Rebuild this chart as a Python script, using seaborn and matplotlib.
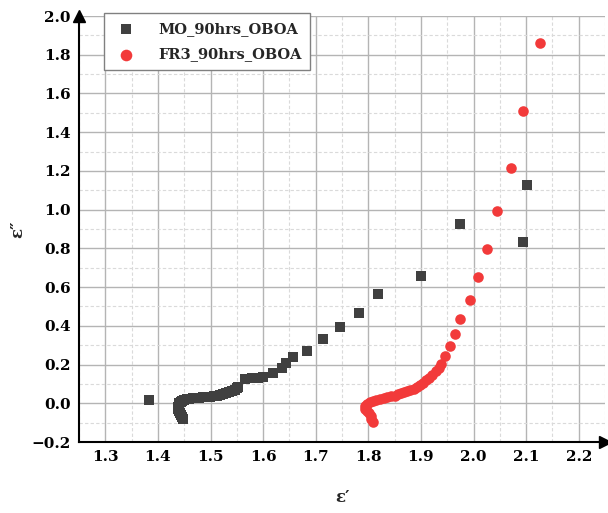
import matplotlib
matplotlib.use("Agg")
import matplotlib.pyplot as plt
from matplotlib.ticker import MultipleLocator
import numpy as np
import pandas as pd
import seaborn as sns

# Cole-Cole data: real (eps') vs imaginary (eps'') permittivity
mo_eps_real = [1.383, 1.447, 1.446, 1.444, 1.442, 1.440, 1.439, 1.439, 1.440, 1.441,
               1.443, 1.446, 1.450, 1.455, 1.460, 1.466, 1.472, 1.478, 1.485, 1.492,
               1.499, 1.506, 1.512, 1.518, 1.524, 1.530, 1.536, 1.541, 1.546, 1.550,
               1.553, 1.565, 1.578, 1.590, 1.600, 1.619, 1.636, 1.643, 1.657, 1.683,
               1.714, 1.746, 1.782, 1.818, 1.900, 1.974, 2.094, 2.102]
mo_eps_imag = [0.016, -0.080, -0.070, -0.060, -0.050, -0.040, -0.030, -0.020, -0.010, 0.000,
               0.008, 0.014, 0.019, 0.022, 0.024, 0.026, 0.027, 0.029, 0.030, 0.032,
               0.034, 0.036, 0.039, 0.042, 0.046, 0.051, 0.057, 0.063, 0.070, 0.078,
               0.086, 0.125, 0.130, 0.133, 0.137, 0.155, 0.180, 0.210, 0.237, 0.269,
               0.330, 0.394, 0.465, 0.563, 0.656, 0.925, 0.832, 1.127]

fr3_eps_real = [1.808, 1.806, 1.805, 1.802, 1.797, 1.793, 1.794, 1.798, 1.803, 1.809,
                1.815, 1.822, 1.829, 1.836, 1.843, 1.850, 1.856, 1.862, 1.868, 1.874,
                1.880, 1.886, 1.892, 1.898, 1.904, 1.910, 1.916, 1.922, 1.928, 1.934,
                1.939, 1.946, 1.955, 1.965, 1.975, 1.993, 2.008, 2.026, 2.045, 2.071,
                2.094, 2.126]
fr3_eps_imag = [-0.095, -0.080, -0.065, -0.050, -0.038, -0.027, -0.015, -0.005, 0.004, 0.012,
                0.018, 0.024, 0.028, 0.031, 0.035, 0.040, 0.046, 0.052, 0.057, 0.061,
                0.067, 0.075, 0.084, 0.094, 0.106, 0.118, 0.132, 0.148, 0.165, 0.183,
                0.205, 0.243, 0.295, 0.357, 0.434, 0.532, 0.651, 0.796, 0.992, 1.215,
                1.509, 1.860]

series_names = ["MO_90hrs_OBOA", "FR3_90hrs_OBOA"]
x_ticks = [1.3, 1.4, 1.5, 1.6, 1.7, 1.8, 1.9, 2.0, 2.1, 2.2]
y_ticks = [-0.2, 0.0, 0.2, 0.4, 0.6, 0.8, 1.0, 1.2, 1.4, 1.6, 1.8, 2.0]

df = pd.concat([
    pd.DataFrame({"eps_r": mo_eps_real, "eps_i": mo_eps_imag, "sample": series_names[0]}),
    pd.DataFrame({"eps_r": fr3_eps_real, "eps_i": fr3_eps_imag, "sample": series_names[1]}),
], ignore_index=True)

sns.set_style("white")
plt.rcParams["font.family"] = ["DejaVu Serif"]

fig = plt.figure(figsize=(6.08, 5.13), dpi=100)
ax = fig.add_axes([79 / 608, 1 - 442 / 513, (605 - 79) / 608, (442 - 16) / 513])

colors = {series_names[0]: "#404040", series_names[1]: "#f23a3a"}
sns.scatterplot(data=df[df["sample"] == series_names[0]], x="eps_r", y="eps_i",
                color=colors[series_names[0]], marker="s", s=46, linewidth=0,
                label=series_names[0], ax=ax, zorder=3)
sns.scatterplot(data=df[df["sample"] == series_names[1]], x="eps_r", y="eps_i",
                color=colors[series_names[1]], marker="o", s=58, linewidth=0,
                label=series_names[1], ax=ax, zorder=3)

ax.set_xlim(1.25, 2.25)
ax.set_ylim(-0.2, 2.0)
ax.set_xticks(x_ticks)
ax.set_yticks(y_ticks)
ax.set_xticklabels([f"{v:.1f}" for v in x_ticks])
ax.set_yticklabels([f"{v:.1f}".replace("-", "\u2212") for v in y_ticks])
ax.xaxis.set_minor_locator(MultipleLocator(0.05))
ax.yaxis.set_minor_locator(MultipleLocator(0.1))

ax.grid(which="major", color="#b4b4b4", linewidth=1.0, linestyle="-", zorder=0)
ax.grid(which="minor", color="#dadada", linewidth=0.8, linestyle=(0, (3, 2)), zorder=0)
ax.set_axisbelow(True)

for side in ("top", "right"):
    ax.spines[side].set_visible(False)
for side in ("left", "bottom"):
    ax.spines[side].set_color("black")
    ax.spines[side].set_linewidth(1.5)

ax.tick_params(which="major", direction="in", length=8, width=1.5, colors="black",
               labelsize=11, pad=6)
ax.tick_params(which="minor", direction="in", length=4, width=1.2, colors="black")
for lbl in ax.get_xticklabels() + ax.get_yticklabels():
    lbl.set_fontweight("bold")

# arrow heads at the ends of the axes
ax.plot(1, 0, ">", color="black", markersize=9, transform=ax.transAxes, clip_on=False, zorder=5)
ax.plot(0, 1, "^", color="black", markersize=9, transform=ax.transAxes, clip_on=False, zorder=5)

ax.set_xlabel("\u03b5\u2032", fontsize=12, fontweight="bold", labelpad=18)
ax.set_ylabel("\u03b5\u2033", fontsize=12, fontweight="bold", labelpad=4)

leg = ax.legend(loc="upper left", bbox_to_anchor=(0.0475, 1.007), borderaxespad=0,
                frameon=True, fancybox=False, framealpha=1, edgecolor="#808080",
                prop={"weight": "bold", "size": 10.5}, markerscale=1.1,
                handletextpad=1.3, labelspacing=0.8, borderpad=0.6, handlelength=1.8)
leg.get_frame().set_linewidth(1.0)

fig.savefig("out.png", dpi=100)
